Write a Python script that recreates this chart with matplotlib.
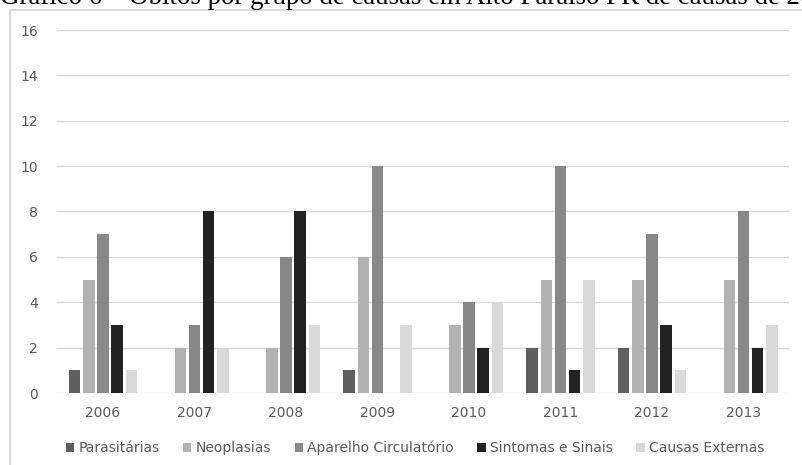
import numpy as np
import matplotlib.pyplot as plt
from matplotlib.lines import Line2D

years = ['2006', '2007', '2008', '2009', '2010', '2011', '2012', '2013']
series_names = ['Parasitárias', 'Neoplasias', 'Aparelho Circulatório',
                'Sintomas e Sinais', 'Causas Externas']
parasitarias = [1, 0, 0, 1, 0, 2, 2, 0]
neoplasias = [5, 2, 2, 6, 3, 5, 5, 5]
circulatorio = [7, 3, 6, 10, 4, 10, 7, 8]
sintomas = [3, 8, 8, 0, 2, 1, 3, 2]
externas = [1, 2, 3, 3, 4, 5, 1, 3]
series = [parasitarias, neoplasias, circulatorio, sintomas, externas]
colors = ['#5f5f5f', '#b2b2b2', '#888888', '#222222', '#d9d9d9']

W, H = 802, 465
fig = plt.figure(figsize=(W / 100, H / 100), dpi=100)
ax = fig.add_axes([57.25 / W, (H - 393) / H, 732 / W, 363 / H])

x = np.arange(len(years))
pitch = 0.155
width = 0.127
for k, (vals, name, c) in enumerate(zip(series, series_names, colors)):
    ax.bar(x + (k - 2) * pitch, vals, width, color=c, label=name, zorder=3)

ax.set_xlim(-0.5, len(years) - 0.5)
ax.set_ylim(0, 16)
ax.set_yticks(range(0, 17, 2))
ax.set_xticks(x)
ax.set_xticklabels(years)
ax.grid(axis='y', color='#d9d9d9', linewidth=1.0, zorder=0)
for s in ax.spines.values():
    s.set_visible(False)
ax.tick_params(length=0, labelsize=10, labelcolor='#595959')
ax.tick_params(axis='y', pad=14)
ax.tick_params(axis='x', pad=9)

leg = fig.legend(loc='center', bbox_to_anchor=(415 / W, 1 - 448 / H), ncol=5,
                 frameon=False, fontsize=10, handlelength=0.6, handleheight=0.6,
                 handletextpad=0.3, columnspacing=1.7, labelcolor='#595959')

# chart frame, partly cut off at the page edge
fig.add_artist(Line2D([10 / W, 10 / W], [0, 1 - 10 / H], color='#d9d9d9', lw=1.3,
                      transform=fig.transFigure))
fig.add_artist(Line2D([10 / W, 1], [1 - 10 / H, 1 - 10 / H], color='#d9d9d9', lw=1.3,
                      transform=fig.transFigure))

fig.text(0, 1 - 4 / H, 'Gráfico 6 – Óbitos por grupo de causas em Alto Paraíso PR de causas de 2006 a 2013',
         va='baseline', ha='left', fontfamily='Liberation Serif', fontsize=19.4, color='black')

fig.savefig('out.png', dpi=100)
